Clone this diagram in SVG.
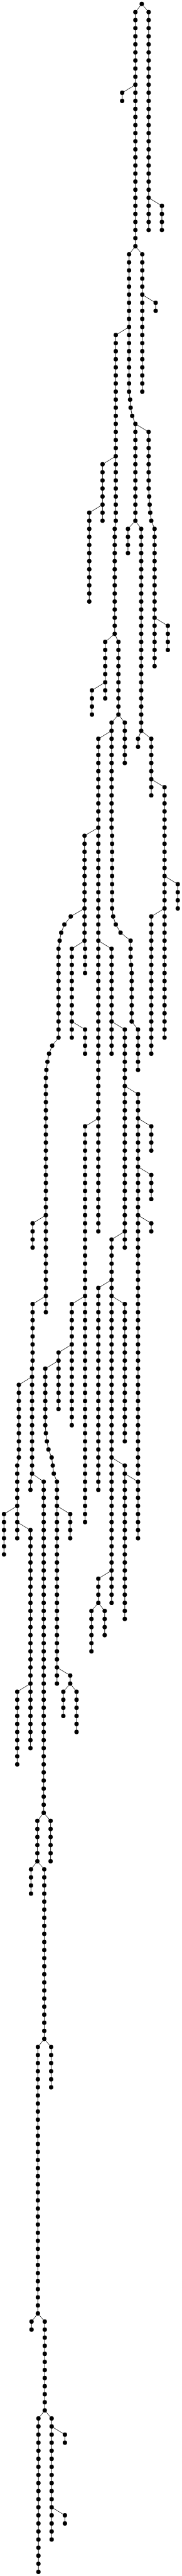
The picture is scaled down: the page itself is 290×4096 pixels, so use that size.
<svg xmlns="http://www.w3.org/2000/svg" width="290" height="4096" viewBox="0 0 290 4096">
<style>circle{r:5.4px;fill:#000}#links path{fill:none;stroke:#000;stroke-width:1.3}</style>
<rect width="290" height="4096" fill="#fff"/>
<g transform="translate(0 6.33) scale(.642)">
<g id="links">
<path d="M351.8 0L336 20V600L320.3 620V960L322.9 980L324.2 1000L328.1 1020L336 1040V1280"/>
<path d="M351.8 0L368.9 20V560"/>
<path d="M368.9 480L401.8 500V560"/>
<path d="M336 200L303.2 220V240"/>
<path d="M336 600L353.1 620V960"/>
<path d="M353.1 720L386.3 740V760"/>
<path d="M320.3 800L287.4 820V1280L284.7 1300V1560"/>
<path d="M284.7 1560L261.1 1580V1720"/>
<path d="M284.7 1560L293.9 1580V1760L276.9 1780V2040L278.2 2060V2240L280.8 2260L287.4 2280L299.2 2300L324.2 2320V2360L325.5 2380L326.8 2400V2520L342.6 2540V2640"/>
<path d="M293.9 1760L309.7 1780V1880"/>
<path d="M336 1040L368.9 1060V1200L370.2 1220L371.5 1240L372.9 1260L375.5 1280L383.7 1300V1640"/>
<path d="M383.7 1520L416.6 1540V1600"/>
<path d="M336 1280L317.6 1300V1360"/>
<path d="M336 1280L350.5 1300V1800"/>
<path d="M350.5 1800L342.6 1820V1840"/>
<path d="M350.5 1800L375.5 1820V1960"/>
<path d="M375.5 1920L408.4 1940V2560"/>
<path d="M408.4 2160L441.2 2180V2240"/>
<path d="M408.4 2240L375.5 2260V2600"/>
<path d="M287.4 1120L254.5 1140V1280"/>
<path d="M254.5 1240L221.6 1260V1480"/>
<path d="M261.1 1680L228.2 1700V1760"/>
<path d="M276.9 1800L244 1820V3040"/>
<path d="M244 2040L209.8 2060V2320L211.1 2340V2400"/>
<path d="M244 2320L276.9 2340V2600"/>
<path d="M276.9 2520L309.7 2540V3080"/>
<path d="M309.7 2680L342.6 2700V3640"/>
<path d="M342.6 2760L375.5 2780V2840"/>
<path d="M342.6 2880L375.5 2900V2960"/>
<path d="M342.6 3000L375.5 3020V3040"/>
<path d="M309.7 3040L276.9 3060V3960"/>
<path d="M276.9 3160L244 3180V3680"/>
<path d="M276.9 3200L309.7 3220V3560"/>
<path d="M276.9 3600L309.7 3620V4000"/>
<path d="M309.7 3640L342.6 3660V3800"/>
<path d="M276.9 3880L244 3900V3960"/>
<path d="M244 3960L226.9 3980V4080"/>
<path d="M244 3960L259.8 3980V4040"/>
<path d="M244 2760L211.1 2780V3760"/>
<path d="M209.8 2320L178.2 2340V2560"/>
<path d="M178.2 2520L211.1 2540V2600"/>
<path d="M209.8 2240L175.6 2260L159.8 2280L151.9 2300L148 2320L145.3 2340V2560L129.5 2580L121.7 2600L117.7 2620L115.1 2640L113.8 2660V3240"/>
<path d="M113.8 3000L80.9 3020V3080"/>
<path d="M113.8 3200L80.9 3220V3360L79.6 3380V3640"/>
<path d="M79.6 3400L46.7 3420V3600L42.7 3620V3800"/>
<path d="M42.7 3720L9.9 3740V3840"/>
<path d="M42.7 3760L75.6 3780V4320"/>
<path d="M75.6 4160L42.7 4180V4360"/>
<path d="M79.6 3640L75.6 3660V3680"/>
<path d="M79.6 3640L108.5 3660V4480"/>
<path d="M108.5 4480L92.7 4500V4600"/>
<path d="M108.5 4480L125.6 4500V4600"/>
<path d="M92.7 4600L76.9 4620V4680"/>
<path d="M92.7 4600L109.8 4620V5040"/>
<path d="M109.8 5040L94 5060V5720"/>
<path d="M109.8 5040L126.9 5060V5160"/>
<path d="M94 5720L78.3 5740V5760"/>
<path d="M94 5720L111.1 5740V5960"/>
<path d="M111.1 5960L95.4 5980V6360"/>
<path d="M111.1 5960L128.2 5980V6280"/>
<path d="M128.2 6000L161.1 6020V6040"/>
<path d="M128.2 6200L161.1 6220V6240"/>
<path d="M211.1 3200L178.2 3220V3520"/>
<path d="M178.2 3320L145.3 3340V3480"/>
<path d="M145.3 3360L112.4 3380V3520L113.8 3540L116.4 3560L120.3 3580L128.2 3600L130.9 3620L133.5 3640L141.4 3660V4160"/>
<path d="M141.4 3720L174.3 3740V3800"/>
<path d="M141.4 4120L174.3 4140V4160"/>
<path d="M174.3 4160L157.2 4180V4240"/>
<path d="M174.3 4160L190 4180V4280"/>
</g>
<g id="nodes">
<g id="a0"><circle cx="351.8" cy="0"/></g>
<g transform="translate(336)"><g id="b1"><circle cy="20"/></g><g id="b2"><circle cy="40"/></g><g id="b3"><circle cy="60"/></g><g id="b4"><circle cy="80"/></g><g id="b5"><circle cy="100"/></g><g id="b6"><circle cy="120"/></g><g id="b7"><circle cy="140"/></g><g id="b8"><circle cy="160"/></g><g id="b9"><circle cy="180"/></g><g id="b10"><circle cy="200"/></g><g id="b11"><circle cy="220"/></g><g id="b12"><circle cy="240"/></g><g id="b13"><circle cy="260"/></g><g id="b14"><circle cy="280"/></g><g id="b15"><circle cy="300"/></g><g id="b16"><circle cy="320"/></g><g id="b17"><circle cy="340"/></g><g id="b18"><circle cy="360"/></g><g id="b19"><circle cy="380"/></g><g id="b20"><circle cy="400"/></g><g id="b21"><circle cy="420"/></g><g id="b22"><circle cy="440"/></g><g id="b23"><circle cy="460"/></g><g id="b24"><circle cy="480"/></g><g id="b25"><circle cy="500"/></g><g id="b26"><circle cy="520"/></g><g id="b27"><circle cy="540"/></g><g id="b28"><circle cy="560"/></g><g id="b29"><circle cy="580"/></g><g id="b30"><circle cy="600"/></g></g>
<g transform="translate(368.9)"><g id="c1"><circle cy="20"/></g><g id="c2"><circle cy="40"/></g><g id="c3"><circle cy="60"/></g><g id="c4"><circle cy="80"/></g><g id="c5"><circle cy="100"/></g><g id="c6"><circle cy="120"/></g><g id="c7"><circle cy="140"/></g><g id="c8"><circle cy="160"/></g><g id="c9"><circle cy="180"/></g><g id="c10"><circle cy="200"/></g><g id="c11"><circle cy="220"/></g><g id="c12"><circle cy="240"/></g><g id="c13"><circle cy="260"/></g><g id="c14"><circle cy="280"/></g><g id="c15"><circle cy="300"/></g><g id="c16"><circle cy="320"/></g><g id="c17"><circle cy="340"/></g><g id="c18"><circle cy="360"/></g><g id="c19"><circle cy="380"/></g><g id="c20"><circle cy="400"/></g><g id="c21"><circle cy="420"/></g><g id="c22"><circle cy="440"/></g><g id="c23"><circle cy="460"/></g><g id="c24"><circle cy="480"/></g><g id="c25"><circle cy="500"/></g><g id="c26"><circle cy="520"/></g><g id="c27"><circle cy="540"/></g><g id="c28"><circle cy="560"/></g></g>
<g transform="translate(401.8)"><g id="d25"><circle cy="500"/></g><g id="d26"><circle cy="520"/></g><g id="d27"><circle cy="540"/></g><g id="d28"><circle cy="560"/></g></g>
<g transform="translate(303.2)"><g id="e11"><circle cy="220"/></g><g id="e12"><circle cy="240"/></g></g>
<g transform="translate(353.1)"><g id="f31"><circle cy="620"/></g><g id="f32"><circle cy="640"/></g><g id="f33"><circle cy="660"/></g><g id="f34"><circle cy="680"/></g><g id="f35"><circle cy="700"/></g><g id="f36"><circle cy="720"/></g><g id="f37"><circle cy="740"/></g><g id="f38"><circle cy="760"/></g><g id="f39"><circle cy="780"/></g><g id="f40"><circle cy="800"/></g><g id="f41"><circle cy="820"/></g><g id="f42"><circle cy="840"/></g><g id="f43"><circle cy="860"/></g><g id="f44"><circle cy="880"/></g><g id="f45"><circle cy="900"/></g><g id="f46"><circle cy="920"/></g><g id="f47"><circle cy="940"/></g><g id="f48"><circle cy="960"/></g></g>
<g transform="translate(386.3)"><g id="g37"><circle cy="740"/></g><g id="g38"><circle cy="760"/></g></g>
<g transform="translate(320.3)"><g id="h31"><circle cy="620"/></g><g id="h32"><circle cy="640"/></g><g id="h33"><circle cy="660"/></g><g id="h34"><circle cy="680"/></g><g id="h35"><circle cy="700"/></g><g id="h36"><circle cy="720"/></g><g id="h37"><circle cy="740"/></g><g id="h38"><circle cy="760"/></g><g id="h39"><circle cy="780"/></g><g id="h40"><circle cy="800"/></g><g id="h41"><circle cy="820"/></g><g id="h42"><circle cy="840"/></g><g id="h43"><circle cy="860"/></g><g id="h44"><circle cy="880"/></g><g id="h45"><circle cy="900"/></g><g id="h46"><circle cy="920"/></g><g id="h47"><circle cy="940"/></g><g id="h48"><circle cy="960"/></g></g>
<g id="h49"><circle cx="322.9" cy="980"/></g><g id="h50"><circle cx="324.2" cy="1000"/></g><g id="h51"><circle cx="328.1" cy="1020"/></g>
<g transform="translate(336)"><g id="i52"><circle cy="1040"/></g><g id="i53"><circle cy="1060"/></g><g id="i54"><circle cy="1080"/></g><g id="i55"><circle cy="1100"/></g><g id="i56"><circle cy="1120"/></g><g id="i57"><circle cy="1140"/></g><g id="i58"><circle cy="1160"/></g><g id="i59"><circle cy="1180"/></g><g id="i60"><circle cy="1200"/></g><g id="i61"><circle cy="1220"/></g><g id="i62"><circle cy="1240"/></g><g id="i63"><circle cy="1260"/></g><g id="i64"><circle cy="1280"/></g></g>
<g transform="translate(317.6)"><g id="j65"><circle cy="1300"/></g><g id="j66"><circle cy="1320"/></g><g id="j67"><circle cy="1340"/></g><g id="j68"><circle cy="1360"/></g></g>
<g transform="translate(350.5)"><g id="k65"><circle cy="1300"/></g><g id="k66"><circle cy="1320"/></g><g id="k67"><circle cy="1340"/></g><g id="k68"><circle cy="1360"/></g><g id="k69"><circle cy="1380"/></g><g id="k70"><circle cy="1400"/></g><g id="k71"><circle cy="1420"/></g><g id="k72"><circle cy="1440"/></g><g id="k73"><circle cy="1460"/></g><g id="k74"><circle cy="1480"/></g><g id="k75"><circle cy="1500"/></g><g id="k76"><circle cy="1520"/></g><g id="k77"><circle cy="1540"/></g><g id="k78"><circle cy="1560"/></g><g id="k79"><circle cy="1580"/></g><g id="k80"><circle cy="1600"/></g><g id="k81"><circle cy="1620"/></g><g id="k82"><circle cy="1640"/></g><g id="k83"><circle cy="1660"/></g><g id="k84"><circle cy="1680"/></g><g id="k85"><circle cy="1700"/></g><g id="k86"><circle cy="1720"/></g><g id="k87"><circle cy="1740"/></g><g id="k88"><circle cy="1760"/></g><g id="k89"><circle cy="1780"/></g><g id="k90"><circle cy="1800"/></g></g>
<g transform="translate(342.6)"><g id="l91"><circle cy="1820"/></g><g id="l92"><circle cy="1840"/></g></g>
<g transform="translate(375.5)"><g id="m91"><circle cy="1820"/></g><g id="m92"><circle cy="1840"/></g><g id="m93"><circle cy="1860"/></g><g id="m94"><circle cy="1880"/></g><g id="m95"><circle cy="1900"/></g><g id="m96"><circle cy="1920"/></g><g id="m97"><circle cy="1940"/></g><g id="m98"><circle cy="1960"/></g></g>
<g transform="translate(408.4)"><g id="n97"><circle cy="1940"/></g><g id="n98"><circle cy="1960"/></g><g id="n99"><circle cy="1980"/></g><g id="n100"><circle cy="2000"/></g><g id="n101"><circle cy="2020"/></g><g id="n102"><circle cy="2040"/></g><g id="n103"><circle cy="2060"/></g><g id="n104"><circle cy="2080"/></g><g id="n105"><circle cy="2100"/></g><g id="n106"><circle cy="2120"/></g><g id="n107"><circle cy="2140"/></g><g id="n108"><circle cy="2160"/></g><g id="n109"><circle cy="2180"/></g><g id="n110"><circle cy="2200"/></g><g id="n111"><circle cy="2220"/></g><g id="n112"><circle cy="2240"/></g><g id="n113"><circle cy="2260"/></g><g id="n114"><circle cy="2280"/></g><g id="n115"><circle cy="2300"/></g><g id="n116"><circle cy="2320"/></g><g id="n117"><circle cy="2340"/></g><g id="n118"><circle cy="2360"/></g><g id="n119"><circle cy="2380"/></g><g id="n120"><circle cy="2400"/></g><g id="n121"><circle cy="2420"/></g><g id="n122"><circle cy="2440"/></g><g id="n123"><circle cy="2460"/></g><g id="n124"><circle cy="2480"/></g><g id="n125"><circle cy="2500"/></g><g id="n126"><circle cy="2520"/></g><g id="n127"><circle cy="2540"/></g><g id="n128"><circle cy="2560"/></g></g>
<g transform="translate(441.2)"><g id="o109"><circle cy="2180"/></g><g id="o110"><circle cy="2200"/></g><g id="o111"><circle cy="2220"/></g><g id="o112"><circle cy="2240"/></g></g>
<g transform="translate(375.5)"><g id="p113"><circle cy="2260"/></g><g id="p114"><circle cy="2280"/></g><g id="p115"><circle cy="2300"/></g><g id="p116"><circle cy="2320"/></g><g id="p117"><circle cy="2340"/></g><g id="p118"><circle cy="2360"/></g><g id="p119"><circle cy="2380"/></g><g id="p120"><circle cy="2400"/></g><g id="p121"><circle cy="2420"/></g><g id="p122"><circle cy="2440"/></g><g id="p123"><circle cy="2460"/></g><g id="p124"><circle cy="2480"/></g><g id="p125"><circle cy="2500"/></g><g id="p126"><circle cy="2520"/></g><g id="p127"><circle cy="2540"/></g><g id="p128"><circle cy="2560"/></g><g id="p129"><circle cy="2580"/></g><g id="p130"><circle cy="2600"/></g></g>
<g transform="translate(368.9)"><g id="q53"><circle cy="1060"/></g><g id="q54"><circle cy="1080"/></g><g id="q55"><circle cy="1100"/></g><g id="q56"><circle cy="1120"/></g><g id="q57"><circle cy="1140"/></g><g id="q58"><circle cy="1160"/></g><g id="q59"><circle cy="1180"/></g><g id="q60"><circle cy="1200"/></g></g>
<g id="q61"><circle cx="370.2" cy="1220"/></g><g id="q62"><circle cx="371.5" cy="1240"/></g><g id="q63"><circle cx="372.9" cy="1260"/></g><g id="q64"><circle cx="375.5" cy="1280"/></g>
<g transform="translate(383.7)"><g id="r65"><circle cy="1300"/></g><g id="r66"><circle cy="1320"/></g><g id="r67"><circle cy="1340"/></g><g id="r68"><circle cy="1360"/></g><g id="r69"><circle cy="1380"/></g><g id="r70"><circle cy="1400"/></g><g id="r71"><circle cy="1420"/></g><g id="r72"><circle cy="1440"/></g><g id="r73"><circle cy="1460"/></g><g id="r74"><circle cy="1480"/></g><g id="r75"><circle cy="1500"/></g><g id="r76"><circle cy="1520"/></g><g id="r77"><circle cy="1540"/></g><g id="r78"><circle cy="1560"/></g><g id="r79"><circle cy="1580"/></g><g id="r80"><circle cy="1600"/></g><g id="r81"><circle cy="1620"/></g><g id="r82"><circle cy="1640"/></g></g>
<g transform="translate(416.6)"><g id="s77"><circle cy="1540"/></g><g id="s78"><circle cy="1560"/></g><g id="s79"><circle cy="1580"/></g><g id="s80"><circle cy="1600"/></g></g>
<g transform="translate(287.4)"><g id="t41"><circle cy="820"/></g><g id="t42"><circle cy="840"/></g><g id="t43"><circle cy="860"/></g><g id="t44"><circle cy="880"/></g><g id="t45"><circle cy="900"/></g><g id="t46"><circle cy="920"/></g><g id="t47"><circle cy="940"/></g><g id="t48"><circle cy="960"/></g><g id="t49"><circle cy="980"/></g><g id="t50"><circle cy="1000"/></g><g id="t51"><circle cy="1020"/></g><g id="t52"><circle cy="1040"/></g><g id="t53"><circle cy="1060"/></g><g id="t54"><circle cy="1080"/></g><g id="t55"><circle cy="1100"/></g><g id="t56"><circle cy="1120"/></g><g id="t57"><circle cy="1140"/></g><g id="t58"><circle cy="1160"/></g><g id="t59"><circle cy="1180"/></g><g id="t60"><circle cy="1200"/></g><g id="t61"><circle cy="1220"/></g><g id="t62"><circle cy="1240"/></g><g id="t63"><circle cy="1260"/></g><g id="t64"><circle cy="1280"/></g></g>
<g transform="translate(284.7)"><g id="u65"><circle cy="1300"/></g><g id="u66"><circle cy="1320"/></g><g id="u67"><circle cy="1340"/></g><g id="u68"><circle cy="1360"/></g><g id="u69"><circle cy="1380"/></g><g id="u70"><circle cy="1400"/></g><g id="u71"><circle cy="1420"/></g><g id="u72"><circle cy="1440"/></g><g id="u73"><circle cy="1460"/></g><g id="u74"><circle cy="1480"/></g><g id="u75"><circle cy="1500"/></g><g id="u76"><circle cy="1520"/></g><g id="u77"><circle cy="1540"/></g><g id="u78"><circle cy="1560"/></g></g>
<g transform="translate(254.5)"><g id="v57"><circle cy="1140"/></g><g id="v58"><circle cy="1160"/></g><g id="v59"><circle cy="1180"/></g><g id="v60"><circle cy="1200"/></g><g id="v61"><circle cy="1220"/></g><g id="v62"><circle cy="1240"/></g><g id="v63"><circle cy="1260"/></g><g id="v64"><circle cy="1280"/></g></g>
<g transform="translate(221.6)"><g id="w63"><circle cy="1260"/></g><g id="w64"><circle cy="1280"/></g><g id="w65"><circle cy="1300"/></g><g id="w66"><circle cy="1320"/></g><g id="w67"><circle cy="1340"/></g><g id="w68"><circle cy="1360"/></g><g id="w69"><circle cy="1380"/></g><g id="w70"><circle cy="1400"/></g><g id="w71"><circle cy="1420"/></g><g id="w72"><circle cy="1440"/></g><g id="w73"><circle cy="1460"/></g><g id="w74"><circle cy="1480"/></g></g>
<g transform="translate(261.1)"><g id="x79"><circle cy="1580"/></g><g id="x80"><circle cy="1600"/></g><g id="x81"><circle cy="1620"/></g><g id="x82"><circle cy="1640"/></g><g id="x83"><circle cy="1660"/></g><g id="x84"><circle cy="1680"/></g><g id="x85"><circle cy="1700"/></g><g id="x86"><circle cy="1720"/></g></g>
<g transform="translate(228.2)"><g id="y85"><circle cy="1700"/></g><g id="y86"><circle cy="1720"/></g><g id="y87"><circle cy="1740"/></g><g id="y88"><circle cy="1760"/></g></g>
<g transform="translate(293.9)"><g id="z79"><circle cy="1580"/></g><g id="z80"><circle cy="1600"/></g><g id="z81"><circle cy="1620"/></g><g id="z82"><circle cy="1640"/></g><g id="z83"><circle cy="1660"/></g><g id="z84"><circle cy="1680"/></g><g id="z85"><circle cy="1700"/></g><g id="z86"><circle cy="1720"/></g><g id="z87"><circle cy="1740"/></g><g id="z88"><circle cy="1760"/></g></g>
<g transform="translate(309.7)"><g id="A89"><circle cy="1780"/></g><g id="A90"><circle cy="1800"/></g><g id="A91"><circle cy="1820"/></g><g id="A92"><circle cy="1840"/></g><g id="A93"><circle cy="1860"/></g><g id="A94"><circle cy="1880"/></g></g>
<g transform="translate(276.9)"><g id="B89"><circle cy="1780"/></g><g id="B90"><circle cy="1800"/></g><g id="B91"><circle cy="1820"/></g><g id="B92"><circle cy="1840"/></g><g id="B93"><circle cy="1860"/></g><g id="B94"><circle cy="1880"/></g><g id="B95"><circle cy="1900"/></g><g id="B96"><circle cy="1920"/></g><g id="B97"><circle cy="1940"/></g><g id="B98"><circle cy="1960"/></g><g id="B99"><circle cy="1980"/></g><g id="B100"><circle cy="2000"/></g><g id="B101"><circle cy="2020"/></g><g id="B102"><circle cy="2040"/></g></g>
<g transform="translate(278.2)"><g id="C103"><circle cy="2060"/></g><g id="C104"><circle cy="2080"/></g><g id="C105"><circle cy="2100"/></g><g id="C106"><circle cy="2120"/></g><g id="C107"><circle cy="2140"/></g><g id="C108"><circle cy="2160"/></g><g id="C109"><circle cy="2180"/></g><g id="C110"><circle cy="2200"/></g><g id="C111"><circle cy="2220"/></g><g id="C112"><circle cy="2240"/></g></g>
<g id="C113"><circle cx="280.8" cy="2260"/></g><g id="C114"><circle cx="287.4" cy="2280"/></g><g id="C115"><circle cx="299.2" cy="2300"/></g>
<g transform="translate(324.2)"><g id="D116"><circle cy="2320"/></g><g id="D117"><circle cy="2340"/></g><g id="D118"><circle cy="2360"/></g></g>
<g id="D119"><circle cx="325.5" cy="2380"/></g>
<g transform="translate(326.8)"><g id="E120"><circle cy="2400"/></g><g id="E121"><circle cy="2420"/></g><g id="E122"><circle cy="2440"/></g><g id="E123"><circle cy="2460"/></g><g id="E124"><circle cy="2480"/></g><g id="E125"><circle cy="2500"/></g><g id="E126"><circle cy="2520"/></g></g>
<g transform="translate(342.6)"><g id="F127"><circle cy="2540"/></g><g id="F128"><circle cy="2560"/></g><g id="F129"><circle cy="2580"/></g><g id="F130"><circle cy="2600"/></g><g id="F131"><circle cy="2620"/></g><g id="F132"><circle cy="2640"/></g></g>
<g transform="translate(244)"><g id="G91"><circle cy="1820"/></g><g id="G92"><circle cy="1840"/></g><g id="G93"><circle cy="1860"/></g><g id="G94"><circle cy="1880"/></g><g id="G95"><circle cy="1900"/></g><g id="G96"><circle cy="1920"/></g><g id="G97"><circle cy="1940"/></g><g id="G98"><circle cy="1960"/></g><g id="G99"><circle cy="1980"/></g><g id="G100"><circle cy="2000"/></g><g id="G101"><circle cy="2020"/></g><g id="G102"><circle cy="2040"/></g><g id="G103"><circle cy="2060"/></g><g id="G104"><circle cy="2080"/></g><g id="G105"><circle cy="2100"/></g><g id="G106"><circle cy="2120"/></g><g id="G107"><circle cy="2140"/></g><g id="G108"><circle cy="2160"/></g><g id="G109"><circle cy="2180"/></g><g id="G110"><circle cy="2200"/></g><g id="G111"><circle cy="2220"/></g><g id="G112"><circle cy="2240"/></g><g id="G113"><circle cy="2260"/></g><g id="G114"><circle cy="2280"/></g><g id="G115"><circle cy="2300"/></g><g id="G116"><circle cy="2320"/></g><g id="G117"><circle cy="2340"/></g><g id="G118"><circle cy="2360"/></g><g id="G119"><circle cy="2380"/></g><g id="G120"><circle cy="2400"/></g><g id="G121"><circle cy="2420"/></g><g id="G122"><circle cy="2440"/></g><g id="G123"><circle cy="2460"/></g><g id="G124"><circle cy="2480"/></g><g id="G125"><circle cy="2500"/></g><g id="G126"><circle cy="2520"/></g><g id="G127"><circle cy="2540"/></g><g id="G128"><circle cy="2560"/></g><g id="G129"><circle cy="2580"/></g><g id="G130"><circle cy="2600"/></g><g id="G131"><circle cy="2620"/></g><g id="G132"><circle cy="2640"/></g><g id="G133"><circle cy="2660"/></g><g id="G134"><circle cy="2680"/></g><g id="G135"><circle cy="2700"/></g><g id="G136"><circle cy="2720"/></g><g id="G137"><circle cy="2740"/></g><g id="G138"><circle cy="2760"/></g><g id="G139"><circle cy="2780"/></g><g id="G140"><circle cy="2800"/></g><g id="G141"><circle cy="2820"/></g><g id="G142"><circle cy="2840"/></g><g id="G143"><circle cy="2860"/></g><g id="G144"><circle cy="2880"/></g><g id="G145"><circle cy="2900"/></g><g id="G146"><circle cy="2920"/></g><g id="G147"><circle cy="2940"/></g><g id="G148"><circle cy="2960"/></g><g id="G149"><circle cy="2980"/></g><g id="G150"><circle cy="3000"/></g><g id="G151"><circle cy="3020"/></g><g id="G152"><circle cy="3040"/></g></g>
<g transform="translate(276.9)"><g id="H117"><circle cy="2340"/></g><g id="H118"><circle cy="2360"/></g><g id="H119"><circle cy="2380"/></g><g id="H120"><circle cy="2400"/></g><g id="H121"><circle cy="2420"/></g><g id="H122"><circle cy="2440"/></g><g id="H123"><circle cy="2460"/></g><g id="H124"><circle cy="2480"/></g><g id="H125"><circle cy="2500"/></g><g id="H126"><circle cy="2520"/></g><g id="H127"><circle cy="2540"/></g><g id="H128"><circle cy="2560"/></g><g id="H129"><circle cy="2580"/></g><g id="H130"><circle cy="2600"/></g></g>
<g transform="translate(309.7)"><g id="I127"><circle cy="2540"/></g><g id="I128"><circle cy="2560"/></g><g id="I129"><circle cy="2580"/></g><g id="I130"><circle cy="2600"/></g><g id="I131"><circle cy="2620"/></g><g id="I132"><circle cy="2640"/></g><g id="I133"><circle cy="2660"/></g><g id="I134"><circle cy="2680"/></g><g id="I135"><circle cy="2700"/></g><g id="I136"><circle cy="2720"/></g><g id="I137"><circle cy="2740"/></g><g id="I138"><circle cy="2760"/></g><g id="I139"><circle cy="2780"/></g><g id="I140"><circle cy="2800"/></g><g id="I141"><circle cy="2820"/></g><g id="I142"><circle cy="2840"/></g><g id="I143"><circle cy="2860"/></g><g id="I144"><circle cy="2880"/></g><g id="I145"><circle cy="2900"/></g><g id="I146"><circle cy="2920"/></g><g id="I147"><circle cy="2940"/></g><g id="I148"><circle cy="2960"/></g><g id="I149"><circle cy="2980"/></g><g id="I150"><circle cy="3000"/></g><g id="I151"><circle cy="3020"/></g><g id="I152"><circle cy="3040"/></g><g id="I153"><circle cy="3060"/></g><g id="I154"><circle cy="3080"/></g></g>
<g transform="translate(342.6)"><g id="J135"><circle cy="2700"/></g><g id="J136"><circle cy="2720"/></g><g id="J137"><circle cy="2740"/></g><g id="J138"><circle cy="2760"/></g><g id="J139"><circle cy="2780"/></g><g id="J140"><circle cy="2800"/></g><g id="J141"><circle cy="2820"/></g><g id="J142"><circle cy="2840"/></g><g id="J143"><circle cy="2860"/></g><g id="J144"><circle cy="2880"/></g><g id="J145"><circle cy="2900"/></g><g id="J146"><circle cy="2920"/></g><g id="J147"><circle cy="2940"/></g><g id="J148"><circle cy="2960"/></g><g id="J149"><circle cy="2980"/></g><g id="J150"><circle cy="3000"/></g><g id="J151"><circle cy="3020"/></g><g id="J152"><circle cy="3040"/></g><g id="J153"><circle cy="3060"/></g><g id="J154"><circle cy="3080"/></g><g id="J155"><circle cy="3100"/></g><g id="J156"><circle cy="3120"/></g><g id="J157"><circle cy="3140"/></g><g id="J158"><circle cy="3160"/></g><g id="J159"><circle cy="3180"/></g><g id="J160"><circle cy="3200"/></g><g id="J161"><circle cy="3220"/></g><g id="J162"><circle cy="3240"/></g><g id="J163"><circle cy="3260"/></g><g id="J164"><circle cy="3280"/></g><g id="J165"><circle cy="3300"/></g><g id="J166"><circle cy="3320"/></g><g id="J167"><circle cy="3340"/></g><g id="J168"><circle cy="3360"/></g><g id="J169"><circle cy="3380"/></g><g id="J170"><circle cy="3400"/></g><g id="J171"><circle cy="3420"/></g><g id="J172"><circle cy="3440"/></g><g id="J173"><circle cy="3460"/></g><g id="J174"><circle cy="3480"/></g><g id="J175"><circle cy="3500"/></g><g id="J176"><circle cy="3520"/></g><g id="J177"><circle cy="3540"/></g><g id="J178"><circle cy="3560"/></g><g id="J179"><circle cy="3580"/></g><g id="J180"><circle cy="3600"/></g><g id="J181"><circle cy="3620"/></g><g id="J182"><circle cy="3640"/></g></g>
<g transform="translate(375.5)"><g id="K139"><circle cy="2780"/></g><g id="K140"><circle cy="2800"/></g><g id="K141"><circle cy="2820"/></g><g id="K142"><circle cy="2840"/></g></g>
<g transform="translate(375.5)"><g id="L145"><circle cy="2900"/></g><g id="L146"><circle cy="2920"/></g><g id="L147"><circle cy="2940"/></g><g id="L148"><circle cy="2960"/></g></g>
<g transform="translate(375.5)"><g id="M151"><circle cy="3020"/></g><g id="M152"><circle cy="3040"/></g></g>
<g transform="translate(276.9)"><g id="N153"><circle cy="3060"/></g><g id="N154"><circle cy="3080"/></g><g id="N155"><circle cy="3100"/></g><g id="N156"><circle cy="3120"/></g><g id="N157"><circle cy="3140"/></g><g id="N158"><circle cy="3160"/></g><g id="N159"><circle cy="3180"/></g><g id="N160"><circle cy="3200"/></g><g id="N161"><circle cy="3220"/></g><g id="N162"><circle cy="3240"/></g><g id="N163"><circle cy="3260"/></g><g id="N164"><circle cy="3280"/></g><g id="N165"><circle cy="3300"/></g><g id="N166"><circle cy="3320"/></g><g id="N167"><circle cy="3340"/></g><g id="N168"><circle cy="3360"/></g><g id="N169"><circle cy="3380"/></g><g id="N170"><circle cy="3400"/></g><g id="N171"><circle cy="3420"/></g><g id="N172"><circle cy="3440"/></g><g id="N173"><circle cy="3460"/></g><g id="N174"><circle cy="3480"/></g><g id="N175"><circle cy="3500"/></g><g id="N176"><circle cy="3520"/></g><g id="N177"><circle cy="3540"/></g><g id="N178"><circle cy="3560"/></g><g id="N179"><circle cy="3580"/></g><g id="N180"><circle cy="3600"/></g><g id="N181"><circle cy="3620"/></g><g id="N182"><circle cy="3640"/></g><g id="N183"><circle cy="3660"/></g><g id="N184"><circle cy="3680"/></g><g id="N185"><circle cy="3700"/></g><g id="N186"><circle cy="3720"/></g><g id="N187"><circle cy="3740"/></g><g id="N188"><circle cy="3760"/></g><g id="N189"><circle cy="3780"/></g><g id="N190"><circle cy="3800"/></g><g id="N191"><circle cy="3820"/></g><g id="N192"><circle cy="3840"/></g><g id="N193"><circle cy="3860"/></g><g id="N194"><circle cy="3880"/></g><g id="N195"><circle cy="3900"/></g><g id="N196"><circle cy="3920"/></g><g id="N197"><circle cy="3940"/></g><g id="N198"><circle cy="3960"/></g></g>
<g transform="translate(244)"><g id="O159"><circle cy="3180"/></g><g id="O160"><circle cy="3200"/></g><g id="O161"><circle cy="3220"/></g><g id="O162"><circle cy="3240"/></g><g id="O163"><circle cy="3260"/></g><g id="O164"><circle cy="3280"/></g><g id="O165"><circle cy="3300"/></g><g id="O166"><circle cy="3320"/></g><g id="O167"><circle cy="3340"/></g><g id="O168"><circle cy="3360"/></g><g id="O169"><circle cy="3380"/></g><g id="O170"><circle cy="3400"/></g><g id="O171"><circle cy="3420"/></g><g id="O172"><circle cy="3440"/></g><g id="O173"><circle cy="3460"/></g><g id="O174"><circle cy="3480"/></g><g id="O175"><circle cy="3500"/></g><g id="O176"><circle cy="3520"/></g><g id="O177"><circle cy="3540"/></g><g id="O178"><circle cy="3560"/></g><g id="O179"><circle cy="3580"/></g><g id="O180"><circle cy="3600"/></g><g id="O181"><circle cy="3620"/></g><g id="O182"><circle cy="3640"/></g><g id="O183"><circle cy="3660"/></g><g id="O184"><circle cy="3680"/></g></g>
<g transform="translate(309.7)"><g id="P161"><circle cy="3220"/></g><g id="P162"><circle cy="3240"/></g><g id="P163"><circle cy="3260"/></g><g id="P164"><circle cy="3280"/></g><g id="P165"><circle cy="3300"/></g><g id="P166"><circle cy="3320"/></g><g id="P167"><circle cy="3340"/></g><g id="P168"><circle cy="3360"/></g><g id="P169"><circle cy="3380"/></g><g id="P170"><circle cy="3400"/></g><g id="P171"><circle cy="3420"/></g><g id="P172"><circle cy="3440"/></g><g id="P173"><circle cy="3460"/></g><g id="P174"><circle cy="3480"/></g><g id="P175"><circle cy="3500"/></g><g id="P176"><circle cy="3520"/></g><g id="P177"><circle cy="3540"/></g><g id="P178"><circle cy="3560"/></g></g>
<g transform="translate(309.7)"><g id="Q181"><circle cy="3620"/></g><g id="Q182"><circle cy="3640"/></g><g id="Q183"><circle cy="3660"/></g><g id="Q184"><circle cy="3680"/></g><g id="Q185"><circle cy="3700"/></g><g id="Q186"><circle cy="3720"/></g><g id="Q187"><circle cy="3740"/></g><g id="Q188"><circle cy="3760"/></g><g id="Q189"><circle cy="3780"/></g><g id="Q190"><circle cy="3800"/></g><g id="Q191"><circle cy="3820"/></g><g id="Q192"><circle cy="3840"/></g><g id="Q193"><circle cy="3860"/></g><g id="Q194"><circle cy="3880"/></g><g id="Q195"><circle cy="3900"/></g><g id="Q196"><circle cy="3920"/></g><g id="Q197"><circle cy="3940"/></g><g id="Q198"><circle cy="3960"/></g><g id="Q199"><circle cy="3980"/></g><g id="Q200"><circle cy="4000"/></g></g>
<g transform="translate(342.6)"><g id="R183"><circle cy="3660"/></g><g id="R184"><circle cy="3680"/></g><g id="R185"><circle cy="3700"/></g><g id="R186"><circle cy="3720"/></g><g id="R187"><circle cy="3740"/></g><g id="R188"><circle cy="3760"/></g><g id="R189"><circle cy="3780"/></g><g id="R190"><circle cy="3800"/></g></g>
<g transform="translate(244)"><g id="S195"><circle cy="3900"/></g><g id="S196"><circle cy="3920"/></g><g id="S197"><circle cy="3940"/></g><g id="S198"><circle cy="3960"/></g></g>
<g transform="translate(226.9)"><g id="T199"><circle cy="3980"/></g><g id="T200"><circle cy="4000"/></g><g id="T201"><circle cy="4020"/></g><g id="T202"><circle cy="4040"/></g><g id="T203"><circle cy="4060"/></g><g id="T204"><circle cy="4080"/></g></g>
<g transform="translate(259.8)"><g id="U199"><circle cy="3980"/></g><g id="U200"><circle cy="4000"/></g><g id="U201"><circle cy="4020"/></g><g id="U202"><circle cy="4040"/></g></g>
<g transform="translate(209.8)"><g id="V103"><circle cy="2060"/></g><g id="V104"><circle cy="2080"/></g><g id="V105"><circle cy="2100"/></g><g id="V106"><circle cy="2120"/></g><g id="V107"><circle cy="2140"/></g><g id="V108"><circle cy="2160"/></g><g id="V109"><circle cy="2180"/></g><g id="V110"><circle cy="2200"/></g><g id="V111"><circle cy="2220"/></g><g id="V112"><circle cy="2240"/></g><g id="V113"><circle cy="2260"/></g><g id="V114"><circle cy="2280"/></g><g id="V115"><circle cy="2300"/></g><g id="V116"><circle cy="2320"/></g></g>
<g transform="translate(211.1)"><g id="W117"><circle cy="2340"/></g><g id="W118"><circle cy="2360"/></g><g id="W119"><circle cy="2380"/></g><g id="W120"><circle cy="2400"/></g></g>
<g transform="translate(178.2)"><g id="X117"><circle cy="2340"/></g><g id="X118"><circle cy="2360"/></g><g id="X119"><circle cy="2380"/></g><g id="X120"><circle cy="2400"/></g><g id="X121"><circle cy="2420"/></g><g id="X122"><circle cy="2440"/></g><g id="X123"><circle cy="2460"/></g><g id="X124"><circle cy="2480"/></g><g id="X125"><circle cy="2500"/></g><g id="X126"><circle cy="2520"/></g><g id="X127"><circle cy="2540"/></g><g id="X128"><circle cy="2560"/></g></g>
<g transform="translate(211.1)"><g id="Y127"><circle cy="2540"/></g><g id="Y128"><circle cy="2560"/></g><g id="Y129"><circle cy="2580"/></g><g id="Y130"><circle cy="2600"/></g></g>
<g id="Z113"><circle cx="175.6" cy="2260"/></g><g id="Z114"><circle cx="159.8" cy="2280"/></g><g id="Z115"><circle cx="151.9" cy="2300"/></g><g id="Z116"><circle cx="148" cy="2320"/></g>
<g transform="translate(145.3)"><g id="Z117"><circle cy="2340"/></g><g id="Z118"><circle cy="2360"/></g><g id="Z119"><circle cy="2380"/></g><g id="Z120"><circle cy="2400"/></g><g id="Z121"><circle cy="2420"/></g><g id="Z122"><circle cy="2440"/></g><g id="Z123"><circle cy="2460"/></g><g id="Z124"><circle cy="2480"/></g><g id="Z125"><circle cy="2500"/></g><g id="Z126"><circle cy="2520"/></g><g id="Z127"><circle cy="2540"/></g><g id="Z128"><circle cy="2560"/></g></g>
<g id="Z129"><circle cx="129.5" cy="2580"/></g><g id="Z130"><circle cx="121.7" cy="2600"/></g><g id="Z131"><circle cx="117.7" cy="2620"/></g><g id="Z132"><circle cx="115.1" cy="2640"/></g>
<g transform="translate(113.8)"><g id="aa133"><circle cy="2660"/></g><g id="aa134"><circle cy="2680"/></g><g id="aa135"><circle cy="2700"/></g><g id="aa136"><circle cy="2720"/></g><g id="aa137"><circle cy="2740"/></g><g id="aa138"><circle cy="2760"/></g><g id="aa139"><circle cy="2780"/></g><g id="aa140"><circle cy="2800"/></g><g id="aa141"><circle cy="2820"/></g><g id="aa142"><circle cy="2840"/></g><g id="aa143"><circle cy="2860"/></g><g id="aa144"><circle cy="2880"/></g><g id="aa145"><circle cy="2900"/></g><g id="aa146"><circle cy="2920"/></g><g id="aa147"><circle cy="2940"/></g><g id="aa148"><circle cy="2960"/></g><g id="aa149"><circle cy="2980"/></g><g id="aa150"><circle cy="3000"/></g><g id="aa151"><circle cy="3020"/></g><g id="aa152"><circle cy="3040"/></g><g id="aa153"><circle cy="3060"/></g><g id="aa154"><circle cy="3080"/></g><g id="aa155"><circle cy="3100"/></g><g id="aa156"><circle cy="3120"/></g><g id="aa157"><circle cy="3140"/></g><g id="aa158"><circle cy="3160"/></g><g id="aa159"><circle cy="3180"/></g><g id="aa160"><circle cy="3200"/></g><g id="aa161"><circle cy="3220"/></g><g id="aa162"><circle cy="3240"/></g></g>
<g transform="translate(80.9)"><g id="ab151"><circle cy="3020"/></g><g id="ab152"><circle cy="3040"/></g><g id="ab153"><circle cy="3060"/></g><g id="ab154"><circle cy="3080"/></g></g>
<g transform="translate(211.1)"><g id="ac139"><circle cy="2780"/></g><g id="ac140"><circle cy="2800"/></g><g id="ac141"><circle cy="2820"/></g><g id="ac142"><circle cy="2840"/></g><g id="ac143"><circle cy="2860"/></g><g id="ac144"><circle cy="2880"/></g><g id="ac145"><circle cy="2900"/></g><g id="ac146"><circle cy="2920"/></g><g id="ac147"><circle cy="2940"/></g><g id="ac148"><circle cy="2960"/></g><g id="ac149"><circle cy="2980"/></g><g id="ac150"><circle cy="3000"/></g><g id="ac151"><circle cy="3020"/></g><g id="ac152"><circle cy="3040"/></g><g id="ac153"><circle cy="3060"/></g><g id="ac154"><circle cy="3080"/></g><g id="ac155"><circle cy="3100"/></g><g id="ac156"><circle cy="3120"/></g><g id="ac157"><circle cy="3140"/></g><g id="ac158"><circle cy="3160"/></g><g id="ac159"><circle cy="3180"/></g><g id="ac160"><circle cy="3200"/></g><g id="ac161"><circle cy="3220"/></g><g id="ac162"><circle cy="3240"/></g><g id="ac163"><circle cy="3260"/></g><g id="ac164"><circle cy="3280"/></g><g id="ac165"><circle cy="3300"/></g><g id="ac166"><circle cy="3320"/></g><g id="ac167"><circle cy="3340"/></g><g id="ac168"><circle cy="3360"/></g><g id="ac169"><circle cy="3380"/></g><g id="ac170"><circle cy="3400"/></g><g id="ac171"><circle cy="3420"/></g><g id="ac172"><circle cy="3440"/></g><g id="ac173"><circle cy="3460"/></g><g id="ac174"><circle cy="3480"/></g><g id="ac175"><circle cy="3500"/></g><g id="ac176"><circle cy="3520"/></g><g id="ac177"><circle cy="3540"/></g><g id="ac178"><circle cy="3560"/></g><g id="ac179"><circle cy="3580"/></g><g id="ac180"><circle cy="3600"/></g><g id="ac181"><circle cy="3620"/></g><g id="ac182"><circle cy="3640"/></g><g id="ac183"><circle cy="3660"/></g><g id="ac184"><circle cy="3680"/></g><g id="ac185"><circle cy="3700"/></g><g id="ac186"><circle cy="3720"/></g><g id="ac187"><circle cy="3740"/></g><g id="ac188"><circle cy="3760"/></g></g>
<g transform="translate(178.2)"><g id="ad161"><circle cy="3220"/></g><g id="ad162"><circle cy="3240"/></g><g id="ad163"><circle cy="3260"/></g><g id="ad164"><circle cy="3280"/></g><g id="ad165"><circle cy="3300"/></g><g id="ad166"><circle cy="3320"/></g><g id="ad167"><circle cy="3340"/></g><g id="ad168"><circle cy="3360"/></g><g id="ad169"><circle cy="3380"/></g><g id="ad170"><circle cy="3400"/></g><g id="ad171"><circle cy="3420"/></g><g id="ad172"><circle cy="3440"/></g><g id="ad173"><circle cy="3460"/></g><g id="ad174"><circle cy="3480"/></g><g id="ad175"><circle cy="3500"/></g><g id="ad176"><circle cy="3520"/></g></g>
<g transform="translate(145.3)"><g id="ae167"><circle cy="3340"/></g><g id="ae168"><circle cy="3360"/></g><g id="ae169"><circle cy="3380"/></g><g id="ae170"><circle cy="3400"/></g><g id="ae171"><circle cy="3420"/></g><g id="ae172"><circle cy="3440"/></g><g id="ae173"><circle cy="3460"/></g><g id="ae174"><circle cy="3480"/></g></g>
<g transform="translate(112.4)"><g id="af169"><circle cy="3380"/></g><g id="af170"><circle cy="3400"/></g><g id="af171"><circle cy="3420"/></g><g id="af172"><circle cy="3440"/></g><g id="af173"><circle cy="3460"/></g><g id="af174"><circle cy="3480"/></g><g id="af175"><circle cy="3500"/></g><g id="af176"><circle cy="3520"/></g></g>
<g id="af177"><circle cx="113.8" cy="3540"/></g><g id="af178"><circle cx="116.4" cy="3560"/></g><g id="af179"><circle cx="120.3" cy="3580"/></g><g id="af180"><circle cx="128.2" cy="3600"/></g><g id="af181"><circle cx="130.9" cy="3620"/></g><g id="af182"><circle cx="133.5" cy="3640"/></g>
<g transform="translate(141.4)"><g id="ag183"><circle cy="3660"/></g><g id="ag184"><circle cy="3680"/></g><g id="ag185"><circle cy="3700"/></g><g id="ag186"><circle cy="3720"/></g><g id="ag187"><circle cy="3740"/></g><g id="ag188"><circle cy="3760"/></g><g id="ag189"><circle cy="3780"/></g><g id="ag190"><circle cy="3800"/></g><g id="ag191"><circle cy="3820"/></g><g id="ag192"><circle cy="3840"/></g><g id="ag193"><circle cy="3860"/></g><g id="ag194"><circle cy="3880"/></g><g id="ag195"><circle cy="3900"/></g><g id="ag196"><circle cy="3920"/></g><g id="ag197"><circle cy="3940"/></g><g id="ag198"><circle cy="3960"/></g><g id="ag199"><circle cy="3980"/></g><g id="ag200"><circle cy="4000"/></g><g id="ag201"><circle cy="4020"/></g><g id="ag202"><circle cy="4040"/></g><g id="ag203"><circle cy="4060"/></g><g id="ag204"><circle cy="4080"/></g><g id="ag205"><circle cy="4100"/></g><g id="ag206"><circle cy="4120"/></g><g id="ag207"><circle cy="4140"/></g><g id="ag208"><circle cy="4160"/></g></g>
<g transform="translate(174.3)"><g id="ah187"><circle cy="3740"/></g><g id="ah188"><circle cy="3760"/></g><g id="ah189"><circle cy="3780"/></g><g id="ah190"><circle cy="3800"/></g></g>
<g transform="translate(174.3)"><g id="ai207"><circle cy="4140"/></g><g id="ai208"><circle cy="4160"/></g></g>
<g transform="translate(157.2)"><g id="aj209"><circle cy="4180"/></g><g id="aj210"><circle cy="4200"/></g><g id="aj211"><circle cy="4220"/></g><g id="aj212"><circle cy="4240"/></g></g>
<g transform="translate(190)"><g id="ak209"><circle cy="4180"/></g><g id="ak210"><circle cy="4200"/></g><g id="ak211"><circle cy="4220"/></g><g id="ak212"><circle cy="4240"/></g><g id="ak213"><circle cy="4260"/></g><g id="ak214"><circle cy="4280"/></g></g>
<g transform="translate(80.9)"><g id="al161"><circle cy="3220"/></g><g id="al162"><circle cy="3240"/></g><g id="al163"><circle cy="3260"/></g><g id="al164"><circle cy="3280"/></g><g id="al165"><circle cy="3300"/></g><g id="al166"><circle cy="3320"/></g><g id="al167"><circle cy="3340"/></g><g id="al168"><circle cy="3360"/></g></g>
<g transform="translate(79.6)"><g id="am169"><circle cy="3380"/></g><g id="am170"><circle cy="3400"/></g><g id="am171"><circle cy="3420"/></g><g id="am172"><circle cy="3440"/></g><g id="am173"><circle cy="3460"/></g><g id="am174"><circle cy="3480"/></g><g id="am175"><circle cy="3500"/></g><g id="am176"><circle cy="3520"/></g><g id="am177"><circle cy="3540"/></g><g id="am178"><circle cy="3560"/></g><g id="am179"><circle cy="3580"/></g><g id="am180"><circle cy="3600"/></g><g id="am181"><circle cy="3620"/></g><g id="am182"><circle cy="3640"/></g></g>
<g transform="translate(46.7)"><g id="an171"><circle cy="3420"/></g><g id="an172"><circle cy="3440"/></g><g id="an173"><circle cy="3460"/></g><g id="an174"><circle cy="3480"/></g><g id="an175"><circle cy="3500"/></g><g id="an176"><circle cy="3520"/></g><g id="an177"><circle cy="3540"/></g><g id="an178"><circle cy="3560"/></g><g id="an179"><circle cy="3580"/></g><g id="an180"><circle cy="3600"/></g></g>
<g transform="translate(42.7)"><g id="ao181"><circle cy="3620"/></g><g id="ao182"><circle cy="3640"/></g><g id="ao183"><circle cy="3660"/></g><g id="ao184"><circle cy="3680"/></g><g id="ao185"><circle cy="3700"/></g><g id="ao186"><circle cy="3720"/></g><g id="ao187"><circle cy="3740"/></g><g id="ao188"><circle cy="3760"/></g><g id="ao189"><circle cy="3780"/></g><g id="ao190"><circle cy="3800"/></g></g>
<g transform="translate(9.9)"><g id="ap187"><circle cy="3740"/></g><g id="ap188"><circle cy="3760"/></g><g id="ap189"><circle cy="3780"/></g><g id="ap190"><circle cy="3800"/></g><g id="ap191"><circle cy="3820"/></g><g id="ap192"><circle cy="3840"/></g></g>
<g transform="translate(75.6)"><g id="aq183"><circle cy="3660"/></g><g id="aq184"><circle cy="3680"/></g></g>
<g transform="translate(108.5)"><g id="ar183"><circle cy="3660"/></g><g id="ar184"><circle cy="3680"/></g><g id="ar185"><circle cy="3700"/></g><g id="ar186"><circle cy="3720"/></g><g id="ar187"><circle cy="3740"/></g><g id="ar188"><circle cy="3760"/></g><g id="ar189"><circle cy="3780"/></g><g id="ar190"><circle cy="3800"/></g><g id="ar191"><circle cy="3820"/></g><g id="ar192"><circle cy="3840"/></g><g id="ar193"><circle cy="3860"/></g><g id="ar194"><circle cy="3880"/></g><g id="ar195"><circle cy="3900"/></g><g id="ar196"><circle cy="3920"/></g><g id="ar197"><circle cy="3940"/></g><g id="ar198"><circle cy="3960"/></g><g id="ar199"><circle cy="3980"/></g><g id="ar200"><circle cy="4000"/></g><g id="ar201"><circle cy="4020"/></g><g id="ar202"><circle cy="4040"/></g><g id="ar203"><circle cy="4060"/></g><g id="ar204"><circle cy="4080"/></g><g id="ar205"><circle cy="4100"/></g><g id="ar206"><circle cy="4120"/></g><g id="ar207"><circle cy="4140"/></g><g id="ar208"><circle cy="4160"/></g><g id="ar209"><circle cy="4180"/></g><g id="ar210"><circle cy="4200"/></g><g id="ar211"><circle cy="4220"/></g><g id="ar212"><circle cy="4240"/></g><g id="ar213"><circle cy="4260"/></g><g id="ar214"><circle cy="4280"/></g><g id="ar215"><circle cy="4300"/></g><g id="ar216"><circle cy="4320"/></g><g id="ar217"><circle cy="4340"/></g><g id="ar218"><circle cy="4360"/></g><g id="ar219"><circle cy="4380"/></g><g id="ar220"><circle cy="4400"/></g><g id="ar221"><circle cy="4420"/></g><g id="ar222"><circle cy="4440"/></g><g id="ar223"><circle cy="4460"/></g><g id="ar224"><circle cy="4480"/></g></g>
<g transform="translate(75.6)"><g id="as189"><circle cy="3780"/></g><g id="as190"><circle cy="3800"/></g><g id="as191"><circle cy="3820"/></g><g id="as192"><circle cy="3840"/></g><g id="as193"><circle cy="3860"/></g><g id="as194"><circle cy="3880"/></g><g id="as195"><circle cy="3900"/></g><g id="as196"><circle cy="3920"/></g><g id="as197"><circle cy="3940"/></g><g id="as198"><circle cy="3960"/></g><g id="as199"><circle cy="3980"/></g><g id="as200"><circle cy="4000"/></g><g id="as201"><circle cy="4020"/></g><g id="as202"><circle cy="4040"/></g><g id="as203"><circle cy="4060"/></g><g id="as204"><circle cy="4080"/></g><g id="as205"><circle cy="4100"/></g><g id="as206"><circle cy="4120"/></g><g id="as207"><circle cy="4140"/></g><g id="as208"><circle cy="4160"/></g><g id="as209"><circle cy="4180"/></g><g id="as210"><circle cy="4200"/></g><g id="as211"><circle cy="4220"/></g><g id="as212"><circle cy="4240"/></g><g id="as213"><circle cy="4260"/></g><g id="as214"><circle cy="4280"/></g><g id="as215"><circle cy="4300"/></g><g id="as216"><circle cy="4320"/></g></g>
<g transform="translate(42.7)"><g id="at209"><circle cy="4180"/></g><g id="at210"><circle cy="4200"/></g><g id="at211"><circle cy="4220"/></g><g id="at212"><circle cy="4240"/></g><g id="at213"><circle cy="4260"/></g><g id="at214"><circle cy="4280"/></g><g id="at215"><circle cy="4300"/></g><g id="at216"><circle cy="4320"/></g><g id="at217"><circle cy="4340"/></g><g id="at218"><circle cy="4360"/></g></g>
<g transform="translate(92.7)"><g id="au225"><circle cy="4500"/></g><g id="au226"><circle cy="4520"/></g><g id="au227"><circle cy="4540"/></g><g id="au228"><circle cy="4560"/></g><g id="au229"><circle cy="4580"/></g><g id="au230"><circle cy="4600"/></g></g>
<g transform="translate(125.6)"><g id="av225"><circle cy="4500"/></g><g id="av226"><circle cy="4520"/></g><g id="av227"><circle cy="4540"/></g><g id="av228"><circle cy="4560"/></g><g id="av229"><circle cy="4580"/></g><g id="av230"><circle cy="4600"/></g></g>
<g transform="translate(76.9)"><g id="aw231"><circle cy="4620"/></g><g id="aw232"><circle cy="4640"/></g><g id="aw233"><circle cy="4660"/></g><g id="aw234"><circle cy="4680"/></g></g>
<g transform="translate(109.8)"><g id="ax231"><circle cy="4620"/></g><g id="ax232"><circle cy="4640"/></g><g id="ax233"><circle cy="4660"/></g><g id="ax234"><circle cy="4680"/></g><g id="ax235"><circle cy="4700"/></g><g id="ax236"><circle cy="4720"/></g><g id="ax237"><circle cy="4740"/></g><g id="ax238"><circle cy="4760"/></g><g id="ax239"><circle cy="4780"/></g><g id="ax240"><circle cy="4800"/></g><g id="ax241"><circle cy="4820"/></g><g id="ax242"><circle cy="4840"/></g><g id="ax243"><circle cy="4860"/></g><g id="ax244"><circle cy="4880"/></g><g id="ax245"><circle cy="4900"/></g><g id="ax246"><circle cy="4920"/></g><g id="ax247"><circle cy="4940"/></g><g id="ax248"><circle cy="4960"/></g><g id="ax249"><circle cy="4980"/></g><g id="ax250"><circle cy="5000"/></g><g id="ax251"><circle cy="5020"/></g><g id="ax252"><circle cy="5040"/></g></g>
<g transform="translate(126.9)"><g id="ay253"><circle cy="5060"/></g><g id="ay254"><circle cy="5080"/></g><g id="ay255"><circle cy="5100"/></g><g id="ay256"><circle cy="5120"/></g><g id="ay257"><circle cy="5140"/></g><g id="ay258"><circle cy="5160"/></g></g>
<g transform="translate(94)"><g id="az253"><circle cy="5060"/></g><g id="az254"><circle cy="5080"/></g><g id="az255"><circle cy="5100"/></g><g id="az256"><circle cy="5120"/></g><g id="az257"><circle cy="5140"/></g><g id="az258"><circle cy="5160"/></g><g id="az259"><circle cy="5180"/></g><g id="az260"><circle cy="5200"/></g><g id="az261"><circle cy="5220"/></g><g id="az262"><circle cy="5240"/></g><g id="az263"><circle cy="5260"/></g><g id="az264"><circle cy="5280"/></g><g id="az265"><circle cy="5300"/></g><g id="az266"><circle cy="5320"/></g><g id="az267"><circle cy="5340"/></g><g id="az268"><circle cy="5360"/></g><g id="az269"><circle cy="5380"/></g><g id="az270"><circle cy="5400"/></g><g id="az271"><circle cy="5420"/></g><g id="az272"><circle cy="5440"/></g><g id="az273"><circle cy="5460"/></g><g id="az274"><circle cy="5480"/></g><g id="az275"><circle cy="5500"/></g><g id="az276"><circle cy="5520"/></g><g id="az277"><circle cy="5540"/></g><g id="az278"><circle cy="5560"/></g><g id="az279"><circle cy="5580"/></g><g id="az280"><circle cy="5600"/></g><g id="az281"><circle cy="5620"/></g><g id="az282"><circle cy="5640"/></g><g id="az283"><circle cy="5660"/></g><g id="az284"><circle cy="5680"/></g><g id="az285"><circle cy="5700"/></g><g id="az286"><circle cy="5720"/></g></g>
<g transform="translate(78.3)"><g id="ba287"><circle cy="5740"/></g><g id="ba288"><circle cy="5760"/></g></g>
<g transform="translate(111.1)"><g id="bb287"><circle cy="5740"/></g><g id="bb288"><circle cy="5760"/></g><g id="bb289"><circle cy="5780"/></g><g id="bb290"><circle cy="5800"/></g><g id="bb291"><circle cy="5820"/></g><g id="bb292"><circle cy="5840"/></g><g id="bb293"><circle cy="5860"/></g><g id="bb294"><circle cy="5880"/></g><g id="bb295"><circle cy="5900"/></g><g id="bb296"><circle cy="5920"/></g><g id="bb297"><circle cy="5940"/></g><g id="bb298"><circle cy="5960"/></g></g>
<g transform="translate(95.4)"><g id="bc299"><circle cy="5980"/></g><g id="bc300"><circle cy="6000"/></g><g id="bc301"><circle cy="6020"/></g><g id="bc302"><circle cy="6040"/></g><g id="bc303"><circle cy="6060"/></g><g id="bc304"><circle cy="6080"/></g><g id="bc305"><circle cy="6100"/></g><g id="bc306"><circle cy="6120"/></g><g id="bc307"><circle cy="6140"/></g><g id="bc308"><circle cy="6160"/></g><g id="bc309"><circle cy="6180"/></g><g id="bc310"><circle cy="6200"/></g><g id="bc311"><circle cy="6220"/></g><g id="bc312"><circle cy="6240"/></g><g id="bc313"><circle cy="6260"/></g><g id="bc314"><circle cy="6280"/></g><g id="bc315"><circle cy="6300"/></g><g id="bc316"><circle cy="6320"/></g><g id="bc317"><circle cy="6340"/></g><g id="bc318"><circle cy="6360"/></g></g>
<g transform="translate(128.2)"><g id="bd299"><circle cy="5980"/></g><g id="bd300"><circle cy="6000"/></g><g id="bd301"><circle cy="6020"/></g><g id="bd302"><circle cy="6040"/></g><g id="bd303"><circle cy="6060"/></g><g id="bd304"><circle cy="6080"/></g><g id="bd305"><circle cy="6100"/></g><g id="bd306"><circle cy="6120"/></g><g id="bd307"><circle cy="6140"/></g><g id="bd308"><circle cy="6160"/></g><g id="bd309"><circle cy="6180"/></g><g id="bd310"><circle cy="6200"/></g><g id="bd311"><circle cy="6220"/></g><g id="bd312"><circle cy="6240"/></g><g id="bd313"><circle cy="6260"/></g><g id="bd314"><circle cy="6280"/></g></g>
<g transform="translate(161.1)"><g id="be301"><circle cy="6020"/></g><g id="be302"><circle cy="6040"/></g><g id="bf311"><circle cy="6220"/></g><g id="bf312"><circle cy="6240"/></g></g>
</g>
</g>
</svg>
